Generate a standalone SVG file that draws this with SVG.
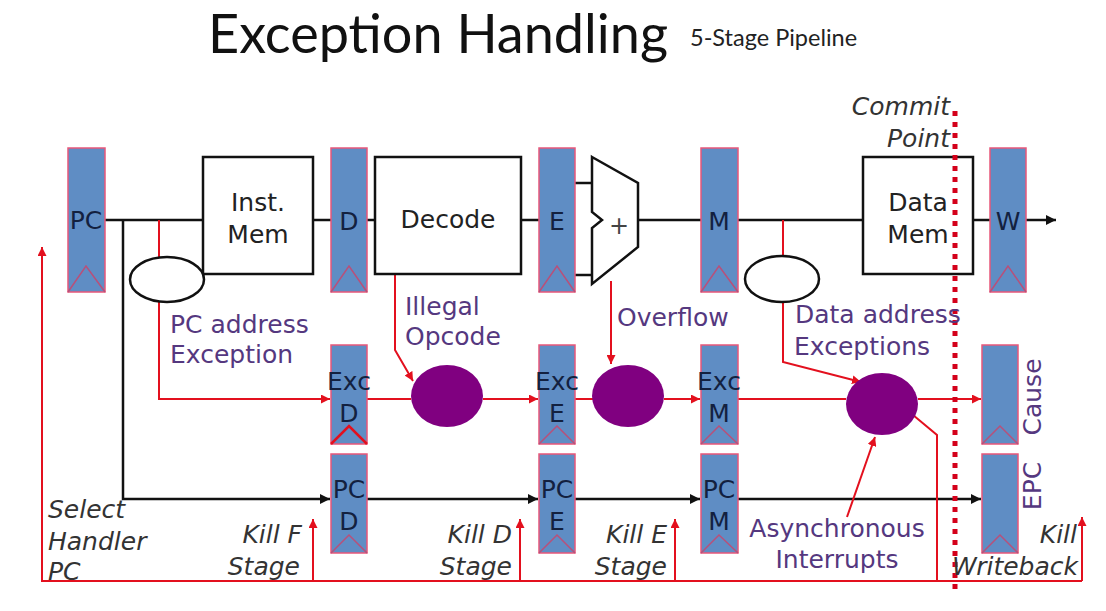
<svg xmlns="http://www.w3.org/2000/svg" width="1106" height="611" viewBox="0 0 1106 611">
<defs>
<style>
.reg{fill:#5f8dc4;stroke:#e8577a;stroke-width:1.5}
.clk{fill:none;stroke:#b8507a;stroke-width:1.5}
.box{fill:#fff;stroke:#111;stroke-width:2.5}
.blk{fill:none;stroke:#111;stroke-width:2.5}
.red{fill:none;stroke:#e3101e;stroke-width:2}
.dot{fill:none;stroke:#d4001a;stroke-width:5;stroke-dasharray:5 6}
.circ{fill:#800080;stroke:none}
.ell{fill:#fff;stroke:#111;stroke-width:2.5}
.lbl{font-family:"DejaVu Sans",Verdana,sans-serif;font-size:25px;fill:#222}
.rl{font-family:"DejaVu Sans",Verdana,sans-serif;font-size:25px;fill:#13213f;text-anchor:middle}
.pl{font-family:"DejaVu Sans",Verdana,sans-serif;font-size:25px;fill:#55387f}
.it{font-family:"DejaVu Sans",Verdana,sans-serif;font-size:25px;font-style:italic;fill:#333}
</style>
<marker id="ar" viewBox="0 0 10 10" refX="10" refY="5" markerWidth="9" markerHeight="9" markerUnits="userSpaceOnUse" orient="auto"><path d="M0,0 L10,5 L0,10 z" fill="#e3101e"/></marker>
<marker id="ab" viewBox="0 0 10 10" refX="10" refY="5" markerWidth="10" markerHeight="10" markerUnits="userSpaceOnUse" orient="auto"><path d="M0,0 L10,5 L0,10 z" fill="#111"/></marker>
</defs>
<rect width="1106" height="611" fill="#fff"/>

<g id="title">
<text x="208" y="53" font-family="Lato,'Liberation Sans',sans-serif" font-size="54" fill="#111">Exception Handling</text>
<text x="690" y="46" font-family="Lato,'Liberation Sans',sans-serif" font-size="23.5" fill="#222">5-Stage Pipeline</text>
</g>

<g id="connectors">
<line class="blk" x1="105" y1="220" x2="203" y2="220"/>
<line class="blk" x1="313" y1="220" x2="331" y2="220"/>
<line class="blk" x1="367" y1="220" x2="375" y2="220"/>
<line class="blk" x1="521" y1="220" x2="539" y2="220"/>
<line class="blk" x1="575" y1="183" x2="592" y2="183"/>
<line class="blk" x1="575" y1="275" x2="592" y2="275"/>
<line class="blk" x1="638" y1="220" x2="701" y2="220"/>
<line class="blk" x1="738" y1="220" x2="863" y2="220"/>
<line class="blk" x1="973" y1="220" x2="990" y2="220"/>
<line class="blk" x1="1026" y1="220" x2="1056" y2="220" marker-end="url(#ab)"/>
<polyline class="blk" points="123,220 123,499 330,499" marker-end="url(#ab)"/>
<line class="blk" x1="367" y1="499" x2="538" y2="499" marker-end="url(#ab)"/>
<line class="blk" x1="575" y1="499" x2="700" y2="499" marker-end="url(#ab)"/>
<line class="blk" x1="738" y1="499" x2="981" y2="499" marker-end="url(#ab)"/>
<line class="red" x1="159" y1="220" x2="159" y2="257"/>
<polyline class="red" points="159,302 159,399 330,399" marker-end="url(#ar)"/>
<line class="red" x1="367" y1="399" x2="411" y2="399"/>
<line class="red" x1="483" y1="399" x2="538" y2="399" marker-end="url(#ar)"/>
<line class="red" x1="575" y1="399" x2="593" y2="399"/>
<line class="red" x1="664" y1="399" x2="700" y2="399" marker-end="url(#ar)"/>
<line class="red" x1="738" y1="399" x2="846" y2="399"/>
<line class="red" x1="918" y1="399" x2="981" y2="399" marker-end="url(#ar)"/>
<polyline class="red" points="395,274 395,350 413,381" marker-end="url(#ar)"/>
<line class="red" x1="611" y1="281" x2="611" y2="364" marker-end="url(#ar)"/>
<line class="red" x1="783" y1="220" x2="783" y2="257"/>
<polyline class="red" points="783,302 783,362 861,382" marker-end="url(#ar)"/>
<line class="red" x1="847" y1="517" x2="875" y2="437" marker-end="url(#ar)"/>
<polyline class="red" points="913,415 937,435 937,581"/>
<polyline class="red" points="42,300 42,581 1082,581"/>
<line class="red" x1="42" y1="300" x2="42" y2="247" marker-end="url(#ar)"/>
<line class="red" x1="313" y1="581" x2="313" y2="519" marker-end="url(#ar)"/>
<line class="red" x1="520" y1="581" x2="520" y2="519" marker-end="url(#ar)"/>
<line class="red" x1="675" y1="581" x2="675" y2="519" marker-end="url(#ar)"/>
<line class="red" x1="1082" y1="581" x2="1082" y2="517" marker-end="url(#ar)"/>
</g>

<g id="PC"><rect class="reg" x="68" y="148" width="37" height="144"/><polyline class="clk" points="68,292 86,266 105,292"/><text class="rl" x="86" y="229">PC</text></g>
<g id="InstMem"><rect class="box" x="203" y="157" width="110" height="117"/><text class="lbl" x="258" y="211" text-anchor="middle">Inst.</text><text class="lbl" x="258" y="243" text-anchor="middle">Mem</text></g>
<g id="D"><rect class="reg" x="331" y="148" width="36" height="144"/><polyline class="clk" points="331,292 349,266 367,292"/><text class="rl" x="349" y="230">D</text></g>
<g id="Decode"><rect class="box" x="375" y="157" width="146" height="117"/><text class="lbl" x="448" y="228" text-anchor="middle">Decode</text></g>
<g id="E"><rect class="reg" x="539" y="148" width="36" height="144"/><polyline class="clk" points="539,292 557,266 575,292"/><text class="rl" x="557" y="230">E</text></g>
<g id="ALU"><polygon class="box" points="592,157 638,183 638,247 592,284 592,228 602,220 592,212"/><text x="619" y="234" font-family="'DejaVu Sans',sans-serif" font-size="24" fill="#444" text-anchor="middle">+</text></g>
<g id="M"><rect class="reg" x="701" y="148" width="37" height="144"/><polyline class="clk" points="701,292 719,266 738,292"/><text class="rl" x="719" y="230">M</text></g>
<g id="DataMem"><rect class="box" x="863" y="157" width="110" height="117"/><text class="lbl" x="918" y="211" text-anchor="middle">Data</text><text class="lbl" x="918" y="243" text-anchor="middle">Mem</text></g>
<g id="W"><rect class="reg" x="990" y="148" width="36" height="144"/><polyline class="clk" points="990,292 1008,266 1026,292"/><text class="rl" x="1008" y="230">W</text></g>

<g id="PCCheck"><ellipse class="ell" cx="167" cy="279.5" rx="37" ry="22.5"/></g>
<g id="DataCheck"><ellipse class="ell" cx="782" cy="279" rx="37" ry="23"/></g>

<g id="ExcD"><rect class="reg" x="331" y="345" width="36" height="99"/><polyline points="331,444 349,426 367,444" fill="none" stroke="#e3101e" stroke-width="2.5"/><text class="rl" x="349" y="390">Exc</text><text class="rl" x="349" y="422">D</text></g>
<g id="ExcE"><rect class="reg" x="539" y="345" width="36" height="99"/><polyline class="clk" points="539,444 557,426 575,444"/><text class="rl" x="557" y="390">Exc</text><text class="rl" x="557" y="422">E</text></g>
<g id="ExcM"><rect class="reg" x="701" y="345" width="37" height="99"/><polyline class="clk" points="701,444 719,426 738,444"/><text class="rl" x="719" y="390">Exc</text><text class="rl" x="719" y="422">M</text></g>
<g id="PCD"><rect class="reg" x="331" y="454" width="36" height="99"/><polyline class="clk" points="331,553 349,535 367,553"/><text class="rl" x="349" y="498">PC</text><text class="rl" x="349" y="530">D</text></g>
<g id="PCE"><rect class="reg" x="539" y="454" width="36" height="99"/><polyline class="clk" points="539,553 557,535 575,553"/><text class="rl" x="557" y="498">PC</text><text class="rl" x="557" y="530">E</text></g>
<g id="PCM"><rect class="reg" x="701" y="454" width="37" height="99"/><polyline class="clk" points="701,553 719,535 738,553"/><text class="rl" x="719" y="498">PC</text><text class="rl" x="719" y="530">M</text></g>
<g id="Cause"><rect class="reg" x="982" y="345" width="36" height="99"/><polyline class="clk" points="982,444 1000,426 1018,444"/><text class="pl" transform="translate(1041,397) rotate(-90)" text-anchor="middle">Cause</text></g>
<g id="EPC"><rect class="reg" x="982" y="454" width="36" height="99"/><polyline class="clk" points="982,553 1000,535 1018,553"/><text class="pl" transform="translate(1041,486) rotate(-90)" text-anchor="middle">EPC</text></g>

<g id="mux1"><ellipse class="circ" cx="447" cy="396" rx="36" ry="31"/></g>
<g id="mux2"><ellipse class="circ" cx="628" cy="396" rx="36" ry="31"/></g>
<g id="mux3"><ellipse class="circ" cx="882" cy="404" rx="36" ry="31"/></g>

<g id="commit">
<line class="dot" x1="955" y1="111" x2="955" y2="592"/>
<text class="it" x="950" y="115" text-anchor="end">Commit</text>
<text class="it" x="950" y="147" text-anchor="end">Point</text>
</g>

<g id="labels">
<text class="pl" x="170" y="333">PC address</text>
<text class="pl" x="170" y="363">Exception</text>
<text class="pl" x="405" y="315">Illegal</text>
<text class="pl" x="405" y="345">Opcode</text>
<text class="pl" x="617" y="326">Overflow</text>
<text class="pl" x="795" y="323">Data address</text>
<text class="pl" x="794" y="355">Exceptions</text>
<text class="pl" x="837" y="537" text-anchor="middle">Asynchronous</text>
<text class="pl" x="837" y="568" text-anchor="middle">Interrupts</text>
<text class="it" x="48" y="518">Select</text>
<text class="it" x="48" y="550">Handler</text>
<text class="it" x="48" y="580">PC</text>
<text class="it" x="302" y="543" text-anchor="end">Kill F</text>
<text class="it" x="300" y="575" text-anchor="end">Stage</text>
<text class="it" x="512" y="543" text-anchor="end">Kill D</text>
<text class="it" x="512" y="575" text-anchor="end">Stage</text>
<text class="it" x="667" y="543" text-anchor="end">Kill E</text>
<text class="it" x="667" y="575" text-anchor="end">Stage</text>
<text class="it" x="1077" y="543" text-anchor="end">Kill</text>
<text class="it" x="1078" y="575" text-anchor="end">Writeback</text>
</g>
</svg>
